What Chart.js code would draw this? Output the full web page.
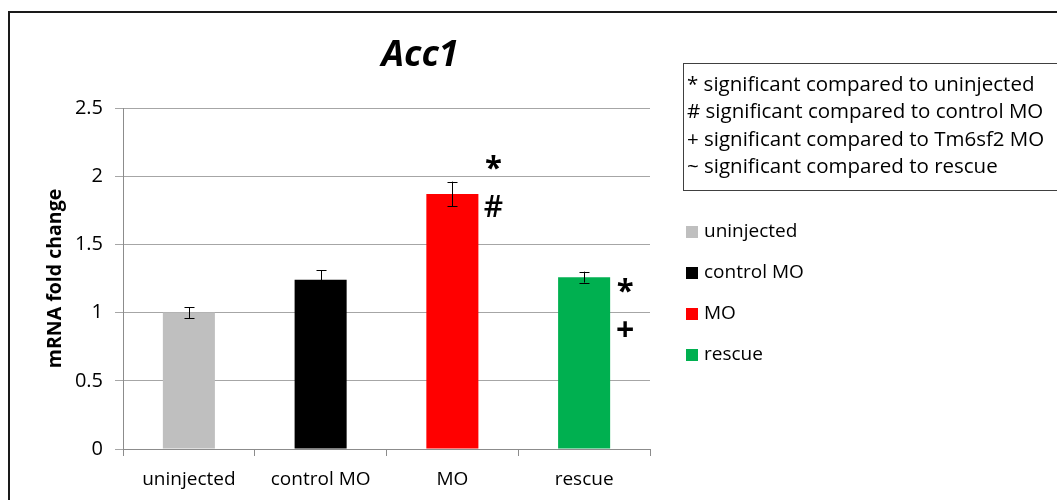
<!DOCTYPE html>
<html>
<head>
<meta charset="utf-8">
<script src="https://cdn.jsdelivr.net/npm/chart.js@4"></script>
<style>
  html, body { margin: 0; padding: 0; background: #ffffff; overflow: hidden; }
  #wrap { position: relative; width: 1057px; height: 500px; }
</style>
</head>
<body>
<div id="wrap"><canvas id="c" width="1057" height="500"></canvas></div>
<script>
// Acc1 expression, mRNA fold change relative to uninjected
const categories = ['uninjected', 'control MO', 'MO', 'rescue'];
const foldChange = [1.00, 1.24, 1.87, 1.26];
const errors = [0.04, 0.07, 0.09, 0.04];
const barColors = ['#bfbfbf', '#000000', '#ff0000', '#00b050'];
const yTicks = [0, 0.5, 1, 1.5, 2, 2.5];

// significance symbols beside bars: [category index, symbol, vertical level of glyph centre]
const sigMarks = [
  [2, '*', 2.10],
  [2, '#', 1.78],
  [3, '*', 1.20],
  [3, '+', 0.88]
];

const keyLines = [
  '* significant compared to uninjected',
  '# significant compared to control MO',
  '+ significant compared to Tm6sf2 MO',
  '~ significant compared to rescue'
];

const FONT = '"Open Sans", Lato, sans-serif';

const decorPlugin = {
  id: 'decor',
  beforeDraw(chart) {
    const ctx = chart.ctx;
    ctx.save();
    ctx.fillStyle = '#ffffff';
    ctx.fillRect(0, 0, chart.width, chart.height);
    // outer frame
    ctx.strokeStyle = '#1a1a1a';
    ctx.lineWidth = 2;
    ctx.strokeRect(9, 12, 1200, 700);
    ctx.restore();
  },
  afterDatasetsDraw(chart) {
    const ctx = chart.ctx;
    const y = chart.scales.y;
    const meta = chart.getDatasetMeta(0);
    ctx.save();

    // error bars
    ctx.strokeStyle = '#000000';
    ctx.lineWidth = 1;
    foldChange.forEach((v, i) => {
      const cx = Math.round(meta.data[i].x) + 0.5;
      const top = y.getPixelForValue(v + errors[i]);
      const bot = y.getPixelForValue(v - errors[i]);
      ctx.beginPath();
      ctx.moveTo(cx, top); ctx.lineTo(cx, bot);
      ctx.moveTo(cx - 5, Math.round(top) + 0.5); ctx.lineTo(cx + 5, Math.round(top) + 0.5);
      ctx.moveTo(cx - 5, Math.round(bot) + 0.5); ctx.lineTo(cx + 5, Math.round(bot) + 0.5);
      ctx.stroke();
    });

    // significance symbols, glyphs centred on their level
    ctx.fillStyle = '#000000';
    ctx.textAlign = 'center';
    ctx.textBaseline = 'alphabetic';
    sigMarks.forEach(([i, sym, level]) => {
      const bar = meta.data[i];
      const bx = bar.x + bar.width / 2 + 15;
      const by = y.getPixelForValue(level);
      ctx.font = (sym === '*' ? 'bold 31px ' : (sym === '#' ? '600 30px ' : 'bold 32px ')) + FONT;
      const m = ctx.measureText(sym);
      const off = (m.actualBoundingBoxAscent - m.actualBoundingBoxDescent) / 2;
      ctx.fillText(sym, bx, by + off);
    });

    // title
    ctx.font = 'bold italic 36px ' + FONT;
    ctx.textAlign = 'center';
    ctx.textBaseline = 'middle';
    ctx.fillText('Acc1', 420, 56);

    // significance key box
    ctx.strokeStyle = '#404040';
    ctx.lineWidth = 1;
    ctx.strokeRect(683.5, 63.5, 420, 127);
    ctx.font = '20.5px ' + FONT;
    ctx.textAlign = 'left';
    ctx.fillStyle = '#000000';
    keyLines.forEach((t, k) => ctx.fillText(t, 687, 85 + k * 27.5));

    // series legend
    categories.forEach((c, k) => {
      const ly = 232 + k * 41;
      ctx.fillStyle = barColors[k];
      ctx.fillRect(686, ly - 6, 12, 12);
      ctx.fillStyle = '#000000';
      ctx.font = '19px ' + FONT;
      ctx.fillText(c, 704, ly);
    });
    ctx.restore();
  }
};

new Chart(document.getElementById('c'), {
  type: 'bar',
  data: {
    labels: categories,
    datasets: [{
      data: foldChange,
      backgroundColor: barColors,
      borderWidth: 0,
      barPercentage: 0.395,
      categoryPercentage: 1.0
    }]
  },
  options: {
    responsive: false,
    animation: false,
    devicePixelRatio: 1,
    layout: { padding: { left: 0, top: 108, right: 407, bottom: 0 } },
    plugins: {
      legend: { display: false },
      title: { display: false },
      tooltip: { enabled: false }
    },
    scales: {
      x: {
        grid: {
          display: true,
          drawOnChartArea: false,
          drawTicks: true,
          tickLength: 7,
          color: '#8c8c8c',
          offset: true
        },
        border: { color: '#8c8c8c', width: 1 },
        ticks: {
          color: '#000000',
          font: { family: FONT, size: 19 },
          padding: 12,
          maxRotation: 0
        },
        afterFit(scale) { scale.height = 51; }
      },
      y: {
        min: 0,
        max: 2.5,
        afterBuildTicks(scale) { scale.ticks = yTicks.map(v => ({ value: v })); },
        grid: {
          color: '#a6a6a6',
          lineWidth: 1,
          drawTicks: true,
          tickLength: 8
        },
        border: { color: '#8c8c8c', width: 1 },
        ticks: {
          color: '#000000',
          font: { family: FONT, size: 20 },
          padding: 12,
          callback: v => String(v)
        },
        title: {
          display: true,
          text: 'mRNA fold change',
          color: '#000000',
          font: { family: FONT, size: 19.5, weight: 'bold' },
          padding: { top: 44, bottom: 0 }
        },
        afterFit(scale) { scale.width = 123; }
      }
    }
  },
  plugins: [decorPlugin]
});
</script>
</body>
</html>
